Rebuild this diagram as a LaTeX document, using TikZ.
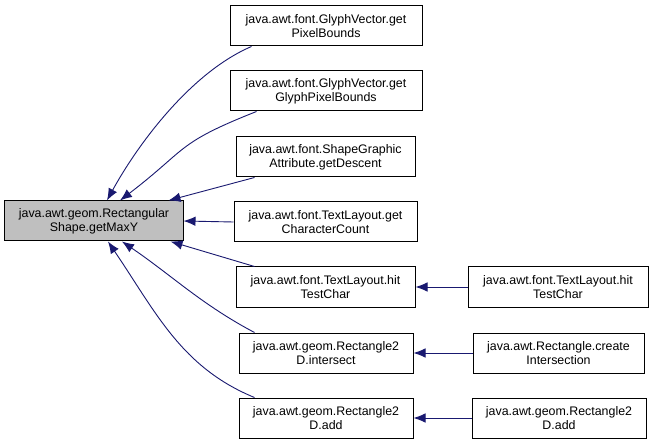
\documentclass[tikz,border=0pt]{standalone}
\usepackage{fontspec}
\setmainfont{Liberation Sans}
\usetikzlibrary{arrows.meta}
\definecolor{edgeblue}{RGB}{25,25,112}
\definecolor{mainfill}{RGB}{191,191,191}
\tikzset{
  box/.style={draw=black, line width=1bp, fill=white, rectangle, inner sep=0pt,
    minimum height=40bp, align=center,
    font=\fontsize{12.4bp}{14bp}\selectfont},
  mainbox/.style={box, fill=mainfill},
  edge/.style={draw=edgeblue, line width=0.9bp, {Latex[length=12bp,width=9.5bp]}-},
}
\begin{document}
\begin{tikzpicture}[x=1bp,y=-1bp]
\useasboundingbox (0,0) rectangle (653,444);
\fill[white] (0,0) rectangle (653,444);

\node[mainbox, minimum width=178bp] (main) at (94,221) {java.awt.geom.Rectangular\\Shape.getMaxY};

\node[box, minimum width=192bp] (n1) at (326,26) {java.awt.font.GlyphVector.get\\PixelBounds};
\node[box, minimum width=192bp] (n2) at (326,91) {java.awt.font.GlyphVector.get\\GlyphPixelBounds};
\node[box, minimum width=179bp] (n3) at (325.5,157) {java.awt.font.ShapeGraphic\\Attribute.getDescent};
\node[box, minimum width=183bp] (n4) at (325.5,222) {java.awt.font.TextLayout.get\\CharacterCount};
\node[box, minimum width=179bp] (n5) at (325.5,287) {java.awt.font.TextLayout.hit\\TestChar};
\node[box, minimum width=174bp] (n6) at (326,353) {java.awt.geom.Rectangle2\\D.intersect};
\node[box, minimum width=174bp] (n7) at (326,418) {java.awt.geom.Rectangle2\\D.add};

\node[box, minimum width=180bp] (r5) at (558,287) {java.awt.font.TextLayout.hit\\TestChar};
\node[box, minimum width=171bp] (r6) at (558.5,353) {java.awt.Rectangle.create\\Intersection};
\node[box, minimum width=174bp] (r7) at (559,418) {java.awt.geom.Rectangle2\\D.add};

\draw[edge] ([xshift=13bp]main.north) .. controls +(30,-55) and +(-61,26) .. ([xshift=22bp]n1.south west);
\draw[edge] ([xshift=26bp]main.north) .. controls +(68,-52) and +(-81,32) .. ([xshift=27bp]n2.south west);
\draw[edge] ([xshift=-15bp]main.north east) -- ([xshift=19bp]n3.south west);
\draw[edge] (main.east) -- (n4.west);
\draw[edge] ([xshift=-13bp]main.south east) -- ([xshift=19bp]n5.north west);
\draw[edge] ([xshift=28bp]main.south) .. controls +(50,34) and +(-53,-28) .. ([xshift=16bp]n6.north west);
\draw[edge] ([xshift=14bp]main.south) .. controls +(48,71) and +(-73,-30) .. ([xshift=16bp]n7.north west);

\draw[edge] (n5.east) -- (r5.west);
\draw[edge] (n6.east) -- (r6.west);
\draw[edge] (n7.east) -- (r7.west);
\end{tikzpicture}
\end{document}
